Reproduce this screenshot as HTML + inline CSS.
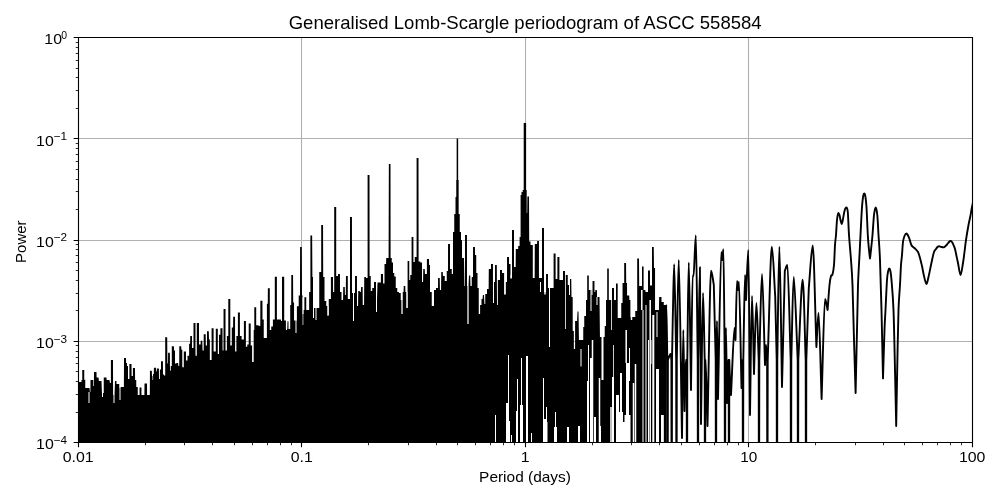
<!DOCTYPE html>
<html><head><meta charset="utf-8"><style>
html,body{margin:0;padding:0;background:#fff;}
svg{display:block;will-change:transform;}
</style></head><body>
<svg width="1000" height="500" viewBox="0 0 1000 500">
<rect width="1000" height="500" fill="#fff"/>
<defs><clipPath id="ax"><rect x="78" y="37" width="895" height="406"/></clipPath></defs>
<path d="M301.5 37V442 M525.5 37V442 M748.5 37V442 M78 138.5H972 M78 240.5H972 M78 341.5H972" stroke="#b0b0b0" stroke-width="1.11" fill="none"/>
<g clip-path="url(#ax)">
<path d="M78 443 L78.00 382 L78.75 382 L78.75 382 L80.10 382 L80.10 382 L81.50 382 L81.50 380 L82.25 380 L82.25 370 L83.25 370 L83.25 370 L84.25 370 L84.25 380 L84.75 380 L84.75 379.5 L85.25 379.5 L85.25 388 L88.05 388 L88.05 388 L89.50 388 L89.95 392 L90.40 392 L90.50 380 L92.00 380 L92.00 380 L93.25 380 L93.25 386 L93.90 386 L94.00 372 L95.25 372 L95.25 372 L96.50 372 L96.60 377.5 L97.05 377.5 L97.50 377.5 L98.50 377.5 L98.95 381 L100.05 381 L100.05 381 L101.50 381 L101.95 393 L102.75 393 L102.75 393 L103.75 393 L103.75 377.5 L105.00 377.5 L105.00 377.5 L106.50 377.5 L106.60 380 L108.05 380 L108.05 380 L109.50 380 L109.95 383 L110.90 383 L110.90 360 L112.00 360 L112.00 360 L113.00 360 L113.10 395 L114.00 395 L114.00 395 L114.55 395 L115.00 381 L116.45 381 L116.45 384 L119.25 384 L119.25 388 L120.55 388 L120.75 387 L122.45 387 L122.45 387 L123.90 387 L124.00 358 L125.00 358 L125.00 358 L126.00 358 L126.10 363 L127.00 363 L127.00 366 L128.00 366 L128.00 379 L129.40 379 L129.40 364 L130.50 364 L130.50 364 L131.50 364 L131.60 376 L132.90 376 L132.90 368 L134.00 368 L134.00 368 L135.00 368 L135.10 380 L136.25 380 L136.25 387 L137.75 387 L137.75 395 L139.55 395 L139.55 387.5 L141.45 387.5 L141.45 395 L143.25 395 L143.25 395 L144.40 395 L144.50 383.5 L145.75 383.5 L145.75 383.5 L147.00 383.5 L147.10 395 L148.50 395 L148.50 395 L149.80 395 L149.95 370.8 L150.90 370.8 L150.90 370.8 L151.80 370.8 L152.00 376 L152.50 376 L152.50 380 L153.10 380 L153.10 374 L153.80 374 L153.90 367.8 L155.00 367.8 L155.00 367.8 L156.00 367.8 L156.20 371.4 L156.80 371.4 L156.90 368.4 L157.90 368.4 L157.90 368.4 L158.90 368.4 L159.00 379 L159.90 379 L159.90 369.6 L161.00 369.6 L161.00 361.2 L162.00 361.2 L162.00 361.2 L162.90 361.2 L163.00 374.4 L164.00 374.4 L164.00 375.6 L165.20 375.6 L165.20 337.2 L166.30 337.2 L166.30 337.2 L167.20 337.2 L167.40 363.6 L168.00 363.6 L168.10 352.8 L169.00 352.8 L169.00 352.8 L169.85 352.8 L170.00 370.8 L170.75 370.8 L170.75 366 L171.80 366 L171.80 346.2 L172.90 346.2 L172.90 346.2 L173.90 346.2 L174.00 350.4 L175.00 350.4 L175.00 363.6 L176.45 363.6 L176.50 363 L178.10 363 L178.35 366 L179.20 366 L179.30 346.2 L180.30 346.2 L180.30 346.2 L181.20 346.2 L181.40 349.8 L182.30 349.8 L182.30 367.2 L183.80 367.2 L183.80 351.6 L184.90 351.6 L184.90 351.6 L186.00 351.6 L186.00 360.6 L187.50 360.6 L187.50 355.8 L189.10 355.8 L189.10 343.8 L190.10 343.8 L190.25 336 L191.05 336 L191.05 336 L192.00 336 L192.00 348 L193.50 348 L193.50 323 L194.50 323 L194.50 323 L195.45 323 L195.50 355.8 L196.80 355.8 L196.80 323 L197.90 323 L197.90 323 L199.00 323 L199.00 344.4 L200.65 344.4 L200.70 340.8 L202.30 340.8 L202.55 350.4 L203.70 350.4 L203.70 334.2 L204.75 334.2 L204.75 334.2 L205.70 334.2 L205.80 345.6 L207.00 345.6 L207.00 331.2 L208.00 331.2 L208.00 331.2 L208.80 331.2 L209.00 339.6 L209.85 339.6 L209.85 360 L211.60 360 L211.60 328.2 L212.60 328.2 L212.60 328.2 L213.60 328.2 L213.60 351.6 L215.80 351.6 L215.80 328.8 L216.80 328.8 L216.80 328.8 L217.80 328.8 L217.80 354 L219.00 354 L219.00 334.8 L220.40 334.8 L220.40 328.2 L221.50 328.2 L221.50 328.2 L222.50 328.2 L222.60 350.4 L223.50 350.4 L223.55 309 L224.50 309 L224.50 309 L225.50 309 L225.50 350.4 L226.90 350.4 L226.90 336 L228.30 336 L228.30 299 L229.30 299 L229.30 299 L230.30 299 L230.30 345.6 L231.80 345.6 L231.80 327.6 L233.10 327.6 L233.15 316.8 L234.10 316.8 L234.10 316.8 L235.05 316.8 L235.10 351.6 L236.40 351.6 L236.40 336 L237.90 336 L237.90 312.6 L238.90 312.6 L238.90 312.6 L239.90 312.6 L239.90 336 L241.60 336 L241.60 339.6 L243.90 339.6 L243.90 321 L244.90 321 L244.90 321 L245.90 321 L245.90 346.8 L247.30 346.8 L247.30 344.4 L248.70 344.4 L248.70 323.4 L249.70 323.4 L249.70 323.4 L250.70 323.4 L250.70 345.6 L252.10 345.6 L252.10 362 L253.10 362 L253.10 362 L253.70 362 L253.70 330 L254.30 330 L254.30 307.2 L255.10 307.2 L255.10 307.2 L256.20 307.2 L256.20 325.2 L257.90 325.2 L257.90 325.4 L259.30 325.4 L259.30 326 L260.30 326 L260.35 300.8 L261.40 300.8 L261.40 300.8 L262.45 300.8 L262.50 319.4 L263.75 319.4 L263.75 338 L265.50 338 L265.50 338 L266.90 338 L266.90 303.8 L267.80 303.8 L267.85 288.2 L268.80 288.2 L268.80 288.2 L269.80 288.2 L269.80 330 L271.25 330 L271.25 326.6 L272.90 326.6 L272.90 319.4 L274.80 319.4 L274.80 276.8 L275.85 276.8 L275.85 276.8 L276.90 276.8 L276.90 319.4 L277.90 319.4 L278.00 319.4 L279.50 319.4 L279.50 319.4 L280.95 319.4 L281.10 321 L282.00 321 L282.00 276.8 L283.10 276.8 L283.10 276.8 L284.20 276.8 L284.20 320.6 L285.90 320.6 L285.90 329 L287.25 329 L287.50 321.2 L288.90 321.2 L289.15 329 L290.20 329 L290.20 305 L291.20 305 L291.30 275 L292.20 275 L292.20 275 L293.05 275 L293.20 302.6 L294.05 302.6 L294.05 320.6 L295.30 320.6 L295.30 320.6 L296.90 320.6 L296.90 306.2 L298.70 306.2 L298.70 295.4 L300.00 295.4 L300.10 247 L301.00 247 L301.00 247 L301.80 247 L302.00 295.4 L302.60 295.4 L302.60 325 L303.30 325 L303.30 310 L304.40 310 L304.40 297.2 L305.50 297.2 L305.50 297.2 L306.25 297.2 L306.25 310 L307.50 310 L307.50 310 L309.15 310 L309.15 292 L310.40 292 L310.40 235.6 L311.40 235.6 L311.40 235.6 L312.15 235.6 L312.40 277 L313.00 277 L313.00 308 L315.75 308 L315.75 308 L319.25 308 L319.25 272 L321.20 272 L321.20 225 L322.20 225 L322.20 225 L323.05 225 L323.20 277 L324.50 277 L324.50 301 L326.25 301 L326.25 306 L327.50 306 L327.50 315 L328.75 315 L328.75 299 L330.90 299 L330.90 277 L332.00 277 L332.00 277 L333.00 277 L333.10 292 L334.20 292 L334.20 207 L335.20 207 L335.20 207 L336.20 207 L336.20 276 L337.15 276 L337.15 276 L338.00 276 L338.05 274 L339.00 274 L339.00 274 L339.95 274 L340.00 292 L341.50 292 L341.50 300 L343.05 300 L343.25 287 L344.75 287 L344.95 295 L345.80 295 L345.95 276 L346.80 276 L346.80 276 L347.80 276 L347.80 299 L350.00 299 L350.00 217 L351.00 217 L351.00 217 L351.95 217 L352.00 293 L353.00 293 L353.00 321 L354.00 321 L354.00 293 L355.00 293 L355.05 276 L356.00 276 L356.00 276 L356.95 276 L357.00 306 L358.05 306 L358.25 291 L359.75 291 L359.95 292 L360.85 292 L361.15 287 L362.65 287 L362.75 305 L364.05 305 L364.25 277 L365.95 277 L365.95 278 L367.60 278 L367.60 175 L368.60 175 L368.60 175 L369.50 175 L369.60 276 L370.75 276 L370.75 291 L372.25 291 L372.25 288 L374.00 288 L374.00 282 L375.00 282 L375.00 282 L376.00 282 L376.00 298 L377.05 298 L377.50 282.5 L378.95 282.5 L378.95 282.5 L380.90 282.5 L380.90 274 L382.00 274 L382.00 274 L383.00 274 L383.10 283.5 L384.50 283.5 L384.50 264 L386.05 264 L386.25 258 L387.75 258 L387.95 258 L388.60 258 L388.85 164 L389.60 164 L389.60 164 L390.50 164 L390.60 258 L391.75 258 L391.75 262.5 L393.00 262.5 L393.00 273 L394.25 273 L394.25 276.5 L395.75 276.5 L395.75 288 L397.25 288 L397.25 292 L399.00 292 L399.00 293 L400.75 293 L400.75 300 L401.75 300 L401.75 314 L402.25 314 L402.25 300 L402.75 300 L402.75 292 L403.55 292 L403.75 286 L405.25 286 L405.45 292 L406.50 292 L406.50 308 L407.60 308 L407.60 261 L408.60 261 L408.60 261 L409.25 261 L409.25 280 L410.25 280 L410.25 275 L411.60 275 L411.60 237 L412.50 237 L412.50 237 L413.40 237 L413.40 262 L414.75 262 L414.75 257 L416.60 257 L416.60 158 L417.60 158 L417.60 158 L418.50 158 L418.60 261.5 L420.25 261.5 L420.25 262.5 L422.00 262.5 L422.00 282 L423.05 282 L423.25 269 L424.75 269 L424.95 274 L426.90 274 L426.90 259 L428.00 259 L428.00 259 L429.00 259 L429.10 265 L430.00 265 L430.00 292 L431.75 292 L431.75 306 L434.00 306 L434.00 290 L436.00 290 L436.00 288 L438.05 288 L438.05 278 L439.75 278 L439.95 290 L441.05 290 L441.25 272 L442.75 272 L442.95 276 L444.75 276 L444.75 281 L446.75 281 L446.75 271 L448.00 271 L448.05 244 L449.00 244 L449.00 244 L450.00 244 L450.00 269 L451.75 269 L451.75 274 L453.00 274 L453.00 232 L454.25 232 L454.25 214 L455.50 214 L455.50 197 L456.25 197 L456.25 180 L456.65 180 L456.65 138.5 L457.40 138.5 L457.40 138.5 L458.15 138.5 L458.15 180 L458.65 180 L458.65 214 L459.75 214 L459.75 232 L461.00 232 L461.00 240 L462.00 240 L462.00 258 L462.55 258 L463.00 258 L464.00 258 L464.45 286 L465.00 286 L465.05 235 L466.00 235 L466.00 235 L466.95 235 L467.00 286 L467.75 286 L467.75 324 L468.25 324 L468.25 286 L468.55 286 L469.00 275.5 L470.25 275.5 L470.45 286 L471.75 286 L471.75 277 L473.00 277 L473.05 247 L474.00 247 L474.00 247 L474.95 247 L475.00 255 L476.25 255 L476.25 273 L477.50 273 L477.50 288 L478.75 288 L478.75 314 L480.10 314 L480.10 305 L481.50 305 L481.50 299 L482.55 299 L482.90 295 L484.00 295 L484.45 304 L485.25 304 L485.25 294 L487.00 294 L487.00 289 L488.65 289 L488.80 269 L490.00 269 L490.00 269 L491.00 269 L491.00 264 L492.00 264 L492.00 264 L492.95 264 L493.00 303 L494.00 303 L494.00 282 L495.00 282 L495.05 265 L496.00 265 L496.00 265 L496.80 265 L497.00 305 L497.85 305 L497.85 280 L500.00 280 L500.00 270 L501.00 270 L501.00 270 L502.00 270 L502.00 273 L504.10 273 L504.10 294.5 L505.85 294.5 L505.85 282 L507.00 282 L507.05 257 L508.00 257 L508.00 257 L509.00 257 L509.00 264 L510.50 264 L510.50 278 L512.00 278 L512.00 230 L513.00 230 L513.00 230 L514.00 230 L514.00 267 L515.65 267 L515.80 249 L517.00 249 L517.00 249 L518.20 249 L518.20 246 L519.60 246 L519.60 237 L520.60 237 L520.60 195 L521.50 195 L521.50 192 L522.70 192 L522.70 190 L523.70 190 L523.70 123 L524.90 123 L524.90 123 L526.10 123 L526.10 190 L526.70 190 L526.70 213 L527.20 213 L527.40 196.6 L528.20 196.6 L528.20 196.6 L529.00 196.6 L529.20 241.6 L530.50 241.6 L530.50 245 L532.80 245 L532.80 278 L534.65 278 L534.80 244 L536.00 244 L536.00 244 L537.05 244 L537.20 241 L538.95 241 L538.95 278 L542.00 278 L542.00 228 L543.00 228 L543.00 228 L544.00 228 L544.00 292 L546.05 292 L546.05 274 L547.95 274 L547.95 288 L550.00 288 L550.00 288 L553.60 288 L553.60 253.6 L554.60 253.6 L554.60 253.6 L555.60 253.6 L555.60 279 L557.40 279 L557.40 257 L558.40 257 L558.40 257 L559.40 257 L559.40 280 L563.00 280 L563.00 271 L564.00 271 L564.00 271 L565.00 271 L565.00 275 L567.75 275 L567.75 285 L569.50 285 L569.50 279 L570.50 279 L570.50 279 L571.25 279 L571.50 297 L572.00 297 L572.00 297 L572.70 297 L572.70 331 L573.85 331 L573.85 349 L575.10 349 L575.10 321 L576.25 321 L576.45 321 L577.05 321 L577.50 311.5 L578.50 311.5 L578.95 340 L581.00 340 L581.00 340 L583.25 340 L583.25 327 L584.25 327 L584.25 316 L586.00 316 L586.00 300 L587.20 300 L587.20 275.5 L587.80 275.5 L587.80 275.5 L588.80 275.5 L588.80 290 L589.80 290 L589.80 290 L590.50 290 L590.50 290 L591.45 290 L591.50 295 L592.50 295 L592.55 281 L593.50 281 L593.50 281 L594.45 281 L594.50 292 L595.30 292 L595.30 290 L596.00 290 L596.00 290 L596.95 290 L597.00 297 L598.05 297 L598.25 297 L599.50 297 L599.95 337 L602.25 337 L602.25 337 L604.75 337 L604.75 326 L606.00 326 L606.00 300 L607.20 300 L607.20 268.5 L607.80 268.5 L607.80 268.5 L608.80 268.5 L608.80 300 L610.25 300 L610.25 300 L612.00 300 L612.00 288 L613.00 288 L613.00 288 L614.00 288 L614.00 300 L616.00 300 L616.00 283.5 L617.00 283.5 L617.00 283.5 L617.70 283.5 L617.70 318 L619.50 318 L619.50 318 L621.25 318 L621.25 303 L622.55 303 L622.55 283 L624.20 283 L624.20 263 L625.20 263 L625.20 263 L626.05 263 L626.20 283 L627.05 283 L627.05 295.5 L628.00 295.5 L628.00 295.5 L629.20 295.5 L629.35 300 L630.50 300 L630.50 317 L633.00 317 L633.00 317 L635.25 317 L635.25 311 L637.20 311 L637.20 258.5 L638.20 258.5 L638.20 258.5 L639.00 258.5 L639.20 286 L639.80 286 L639.80 286 L642.00 286 L642.00 266.5 L643.00 266.5 L643.00 266.5 L643.60 266.5 L643.60 290 L644.20 290 L644.20 290 L645.30 290 L645.55 292 L648.00 292 L648.00 270.5 L649.00 270.5 L649.00 270.5 L649.95 270.5 L650.00 285.5 L652.00 285.5 L652.00 247 L653.00 247 L653.00 247 L653.75 247 L654.00 268 L654.50 268 L654.50 268 L655.05 268 L655.05 310 L657.00 310 L657.00 310 L658.90 310 L659.15 297 L660.20 297 L660.20 297 L661.50 297 L661.50 302 L663.75 302 L663.75 305 L665.55 305 L665.75 305 L666.50 305 L666.5 443 Z" fill="#000"/>
<g fill="#fff"><rect x="88.50" y="392" width="1" height="11"/><rect x="113.50" y="395" width="1" height="8"/><rect x="102.00" y="393" width="1" height="4"/><rect x="119.50" y="388" width="1" height="12"/><rect x="286.00" y="321" width="1" height="9"/><rect x="288.50" y="321" width="1" height="8"/><rect x="295.50" y="320" width="1" height="13"/><rect x="302.50" y="297" width="1" height="17"/><rect x="313.00" y="308" width="1" height="10"/><rect x="315.50" y="308" width="1" height="12"/><rect x="327.50" y="306" width="1" height="10"/><rect x="353.00" y="293" width="1" height="28"/><rect x="376.00" y="298" width="1" height="14"/><rect x="401.50" y="300" width="1" height="14"/><rect x="406.50" y="292" width="1" height="16"/><rect x="432.50" y="292" width="1" height="14"/><rect x="467.50" y="286" width="1" height="38"/><rect x="495.00" y="415" width="1" height="27"/><rect x="506.00" y="403" width="2" height="39"/><rect x="508.00" y="355" width="1" height="87"/><rect x="509.00" y="421" width="1" height="21"/><rect x="511.00" y="435" width="1" height="7"/><rect x="516.00" y="411" width="1" height="31"/><rect x="517.00" y="379" width="1" height="63"/><rect x="520.00" y="405" width="1" height="37"/><rect x="521.00" y="358" width="1" height="84"/><rect x="522.00" y="405" width="1" height="37"/><rect x="526.00" y="356" width="2" height="86"/><rect x="531.00" y="433" width="1" height="9"/><rect x="543.50" y="419" width="3" height="23"/><rect x="546.00" y="407" width="1" height="35"/><rect x="555.00" y="412" width="1" height="30"/><rect x="554.00" y="427" width="2" height="15"/><rect x="568.00" y="427" width="1" height="15"/><rect x="510.60" y="275" width="0.8" height="4"/><rect x="540.00" y="282" width="1" height="10"/><rect x="544.25" y="282" width="1.5" height="12.5"/><rect x="549.00" y="285" width="1" height="62"/><rect x="565.10" y="275" width="0.8" height="54"/><rect x="569.00" y="279" width="1" height="16"/><rect x="590.50" y="290" width="1" height="21"/><rect x="596.50" y="297" width="1" height="8"/><rect x="611.10" y="300" width="0.8" height="30"/><rect x="543.00" y="378" width="1" height="64"/><rect x="580.50" y="349" width="1" height="17.5"/><rect x="587.00" y="381" width="2" height="61"/><rect x="588.00" y="345" width="1" height="97"/><rect x="590.00" y="358" width="3" height="84"/><rect x="591.75" y="340" width="1.5" height="102"/><rect x="598.75" y="378" width="1.5" height="64"/><rect x="601.50" y="337" width="2" height="43"/><rect x="612.00" y="377" width="2" height="65"/><rect x="613.10" y="345" width="0.8" height="97"/><rect x="620.00" y="373" width="2" height="69"/><rect x="625.45" y="330" width="1.5" height="33"/><rect x="626.00" y="363" width="3" height="79"/><rect x="629.00" y="348" width="1" height="33"/><rect x="632.75" y="383" width="1.5" height="59"/><rect x="634.75" y="364" width="1.5" height="78"/><rect x="543.50" y="422" width="4" height="20"/><rect x="554.00" y="427" width="3" height="15"/><rect x="567.00" y="427" width="2" height="15"/><rect x="578.00" y="426" width="2" height="16"/><rect x="594.00" y="417" width="2" height="25"/><rect x="599.00" y="426" width="2" height="16"/><rect x="610.25" y="407" width="1.5" height="35"/><rect x="616.00" y="395" width="3" height="47"/><rect x="619.00" y="412" width="4" height="30"/><rect x="624.50" y="415" width="6" height="27"/><rect x="623.00" y="422" width="2" height="20"/><rect x="630.75" y="298" width="1.5" height="22"/><rect x="641.05" y="290" width="1.5" height="20"/><rect x="642.50" y="310" width="1" height="132"/><rect x="645.50" y="305" width="1" height="137"/><rect x="648.00" y="340" width="1" height="102"/><rect x="649.45" y="300" width="1.5" height="142"/><rect x="650.50" y="340" width="1" height="24"/><rect x="652.30" y="315" width="2" height="127"/><rect x="656.50" y="312" width="1" height="25"/><rect x="656.00" y="369" width="3" height="73"/><rect x="661.00" y="415" width="3" height="27"/><rect x="664.45" y="365" width="1.5" height="77"/></g>
<path d="M664.70 360.00 C664.80 440.00 664.90 520.00 665.00 600.00 C665.10 520.00 665.20 440.00 665.30 360.00 C665.63 341.67 665.97 305.00 666.30 305.00 C666.63 305.00 666.97 341.67 667.30 360.00 C667.40 440.00 667.50 520.00 667.60 600.00 C667.70 520.00 667.80 440.00 667.90 360.00 C668.77 358.00 669.92 354.00 670.50 354.00 C671.08 354.00 671.10 358.00 671.40 360.00 C671.50 440.00 671.60 520.00 671.70 600.00 C671.80 520.00 671.90 440.00 672.00 360.00 C672.27 345.67 672.53 331.33 672.80 317.00 C673.27 299.40 673.63 264.20 674.20 264.20 C674.77 264.20 675.53 328.07 676.20 360.00 C676.30 440.00 676.40 520.00 676.50 600.00 C676.60 520.00 676.70 440.00 676.80 360.00 C677.47 326.67 677.93 260.00 678.80 260.00 C679.67 260.00 680.93 378.67 682.00 438.00 C682.43 402.00 682.88 330.00 683.30 330.00 C683.72 330.00 684.10 384.00 684.50 411.00 C684.93 394.00 685.43 360.00 685.80 360.00 C686.17 360.00 686.40 360.00 686.70 360.00 C686.80 440.00 686.90 520.00 687.00 600.00 C687.10 520.00 687.20 440.00 687.30 360.00 C687.80 327.47 688.18 262.40 688.80 262.40 C689.42 262.40 690.27 347.47 691.00 390.00 C691.53 351.87 692.17 275.60 692.60 275.60 C693.03 275.60 693.07 276.00 693.60 276.00 C694.13 276.00 695.12 235.40 695.80 235.40 C696.48 235.40 697.07 318.47 697.70 360.00 C697.80 440.00 697.90 520.00 698.00 600.00 C698.10 520.00 698.20 440.00 698.30 360.00 C698.83 329.07 699.45 267.20 699.90 267.20 C700.35 267.20 700.63 371.73 701.00 424.00 C701.67 380.33 702.38 293.00 703.00 293.00 C703.62 293.00 704.13 337.67 704.70 360.00 C704.80 440.00 704.90 520.00 705.00 600.00 C705.10 520.00 705.20 440.00 705.30 360.00 C705.63 366.67 705.93 369.00 706.30 380.00 C706.67 391.00 707.10 410.67 707.50 426.00 C708.67 374.27 709.95 270.80 711.00 270.80 C712.05 270.80 712.87 280.00 713.80 284.60 C714.43 309.73 715.07 334.87 715.70 360.00 C715.80 440.00 715.90 520.00 716.00 600.00 C716.10 520.00 716.20 440.00 716.30 360.00 C716.53 347.00 716.72 321.00 717.00 321.00 C717.28 321.00 717.67 373.00 718.00 399.00 C719.07 350.07 720.48 252.20 721.20 252.20 C721.92 252.20 721.93 257.40 722.30 260.00 C722.67 256.40 723.00 249.20 723.40 249.20 C723.80 249.20 724.27 323.07 724.70 360.00 C724.80 440.00 724.90 520.00 725.00 600.00 C725.10 520.00 725.20 440.00 725.30 360.00 C725.53 349.33 725.72 328.00 726.00 328.00 C726.28 328.00 726.67 378.00 727.00 403.00 C727.33 388.67 727.72 360.00 728.00 360.00 C728.28 360.00 728.47 360.00 728.70 360.00 C728.80 440.00 728.90 520.00 729.00 600.00 C729.10 520.00 729.20 440.00 729.30 360.00 C729.53 366.67 729.72 374.17 730.00 380.00 C730.28 385.83 730.67 390.00 731.00 395.00 C732.13 372.67 733.65 328.00 734.40 328.00 C735.15 328.00 735.13 336.00 735.50 340.00 C736.00 320.33 736.58 281.00 737.00 281.00 C737.42 281.00 737.67 287.00 738.00 290.00 C738.33 287.33 738.42 282.00 739.00 282.00 C739.58 282.00 740.67 352.67 741.50 388.00 C741.90 378.67 742.30 369.33 742.70 360.00 C742.80 440.00 742.90 520.00 743.00 600.00 C743.10 520.00 743.20 440.00 743.30 360.00 C743.87 331.67 744.55 275.00 745.00 275.00 C745.45 275.00 745.67 291.67 746.00 300.00 C746.77 283.33 747.63 250.00 748.30 250.00 C748.97 250.00 749.43 360.00 750.00 415.00 C750.67 375.33 751.33 296.00 752.00 296.00 C752.67 296.00 753.33 348.00 754.00 374.00 C754.80 350.33 755.62 303.00 756.40 303.00 C757.18 303.00 757.93 341.00 758.70 360.00 C758.80 440.00 758.90 520.00 759.00 600.00 C759.10 520.00 759.20 440.00 759.30 360.00 C760.20 331.33 761.05 274.00 762.00 274.00 C762.95 274.00 764.00 334.67 765.00 365.00 C765.33 358.33 765.65 345.00 766.00 345.00 C766.35 345.00 766.73 355.00 767.10 360.00 C767.20 440.00 767.30 520.00 767.40 600.00 C767.50 520.00 767.60 440.00 767.70 360.00 C769.07 322.20 770.55 246.60 771.80 246.60 C773.05 246.60 774.07 279.53 775.20 296.00 C775.70 317.33 776.20 338.67 776.70 360.00 C776.80 440.00 776.90 520.00 777.00 600.00 C777.10 520.00 777.20 440.00 777.30 360.00 C778.00 322.20 778.62 246.60 779.40 246.60 C780.18 246.60 781.13 340.20 782.00 387.00 C782.93 348.33 783.87 309.67 784.80 271.00 C785.67 269.00 786.42 265.00 787.40 265.00 C788.38 265.00 789.60 328.33 790.70 360.00 C790.80 440.00 790.90 520.00 791.00 600.00 C791.10 520.00 791.20 440.00 791.30 360.00 C792.13 332.33 792.73 277.00 793.80 277.00 C794.87 277.00 796.40 332.33 797.70 360.00 C797.80 440.00 797.90 520.00 798.00 600.00 C798.10 520.00 798.20 440.00 798.30 360.00 C799.73 333.20 801.37 279.60 802.60 279.60 C803.83 279.60 804.67 333.20 805.70 360.00 C805.80 440.00 805.90 520.00 806.00 600.00 C806.10 520.00 806.20 440.00 806.30 360.00 C807.13 336.00 807.97 312.00 808.80 288.00 C810.10 273.80 811.43 245.40 812.70 245.40 C813.97 245.40 815.17 313.13 816.40 347.00 C817.13 335.67 817.73 313.00 818.60 313.00 C819.47 313.00 820.60 370.33 821.60 399.00 C822.73 365.67 824.00 299.00 825.00 299.00 C826.00 299.00 826.73 306.33 827.60 310.00 C828.23 301.67 828.93 290.67 829.50 285.00 C830.07 279.33 830.50 277.75 831.00 276.00 C831.50 274.25 832.00 276.33 832.50 274.50 C833.00 272.67 833.58 269.92 834.00 265.00 C834.42 260.08 834.67 250.00 835.00 245.00 C835.33 240.00 835.67 239.17 836.00 235.00 C836.33 230.83 836.62 223.67 837.00 220.00 C837.38 216.33 837.88 213.00 838.30 213.00 C838.72 213.00 839.13 213.83 839.50 215.00 C839.87 216.17 840.13 218.50 840.50 220.00 C840.87 221.50 841.28 224.00 841.70 224.00 C842.12 224.00 842.53 221.17 843.00 219.00 C843.47 216.83 843.95 212.92 844.50 211.00 C845.05 209.08 845.75 207.50 846.30 207.50 C846.85 207.50 847.35 207.42 847.80 212.00 C848.25 216.58 848.47 227.00 849.00 235.00 C849.53 243.00 850.42 251.67 851.00 260.00 C851.58 268.33 852.00 271.67 852.50 285.00 C853.00 298.33 853.48 322.00 854.00 340.00 C854.52 358.00 855.07 375.33 855.60 393.00 C856.07 372.00 856.60 348.00 857.00 330.00 C857.40 312.00 857.58 297.50 858.00 285.00 C858.42 272.50 859.08 263.33 859.50 255.00 C859.92 246.67 860.08 243.00 860.50 235.00 C860.92 227.00 861.55 213.50 862.00 207.00 C862.45 200.50 862.83 198.25 863.20 196.00 C863.57 193.75 863.85 193.50 864.20 193.50 C864.55 193.50 864.92 193.75 865.30 196.00 C865.68 198.25 866.08 200.50 866.50 207.00 C866.92 213.50 867.38 227.83 867.80 235.00 C868.22 242.17 868.63 246.08 869.00 250.00 C869.37 253.92 869.67 255.67 870.00 258.50 C870.33 255.67 870.58 253.92 871.00 250.00 C871.42 246.08 872.00 240.83 872.50 235.00 C873.00 229.17 873.47 219.58 874.00 215.00 C874.53 210.42 875.15 207.50 875.70 207.50 C876.25 207.50 876.83 210.42 877.30 215.00 C877.77 219.58 878.05 227.50 878.50 235.00 C878.95 242.50 879.50 247.50 880.00 260.00 C880.50 272.50 881.00 290.27 881.50 310.00 C882.00 329.73 882.50 355.60 883.00 378.40 C883.50 362.27 884.08 341.40 884.50 330.00 C884.92 318.60 885.08 318.33 885.50 310.00 C885.92 301.67 886.55 286.50 887.00 280.00 C887.45 273.50 887.82 272.92 888.20 271.00 C888.58 269.08 888.93 268.50 889.30 268.50 C889.67 268.50 890.03 269.08 890.40 271.00 C890.77 272.92 890.98 273.50 891.50 280.00 C892.02 286.50 892.92 295.00 893.50 310.00 C894.08 325.00 894.55 350.67 895.00 370.00 C895.45 389.33 895.80 407.33 896.20 426.00 C896.53 407.33 896.82 389.33 897.20 370.00 C897.58 350.67 898.03 324.17 898.50 310.00 C898.97 295.83 899.58 292.50 900.00 285.00 C900.42 277.50 900.67 270.00 901.00 265.00 C901.33 260.00 901.67 258.83 902.00 255.00 C902.33 251.17 902.58 245.17 903.00 242.00 C903.42 238.83 903.92 237.42 904.50 236.00 C905.08 234.58 905.92 233.50 906.50 233.50 C907.08 233.50 907.50 234.58 908.00 235.50 C908.50 236.42 909.00 237.58 909.50 239.00 C910.00 240.42 910.58 242.83 911.00 244.00 C911.42 245.17 911.33 245.25 912.00 246.00 C912.67 246.75 914.00 247.50 915.00 248.50 C916.00 249.50 917.17 250.42 918.00 252.00 C918.83 253.58 919.50 256.33 920.00 258.00 C920.50 259.67 920.67 260.67 921.00 262.00 C921.33 263.33 921.50 263.67 922.00 266.00 C922.50 268.33 923.27 273.00 924.00 276.00 C924.73 279.00 925.65 284.00 926.40 284.00 C927.15 284.00 927.73 280.17 928.50 277.00 C929.27 273.83 930.33 268.17 931.00 265.00 C931.67 261.83 932.00 260.17 932.50 258.00 C933.00 255.83 933.42 253.50 934.00 252.00 C934.58 250.50 935.42 249.83 936.00 249.00 C936.58 248.17 936.97 247.45 937.50 247.00 C938.03 246.55 938.62 246.30 939.20 246.30 C939.78 246.30 940.32 246.62 941.00 246.80 C941.68 246.98 942.63 247.40 943.30 247.40 C943.97 247.40 944.38 246.98 945.00 246.50 C945.62 246.02 946.33 245.25 947.00 244.50 C947.67 243.75 948.43 242.58 949.00 242.00 C949.57 241.42 949.90 241.00 950.40 241.00 C950.90 241.00 951.48 241.33 952.00 242.00 C952.52 242.67 953.00 243.83 953.50 245.00 C954.00 246.17 954.50 247.17 955.00 249.00 C955.50 250.83 956.00 253.67 956.50 256.00 C957.00 258.33 957.33 259.83 958.00 263.00 C958.67 266.17 959.67 275.00 960.50 275.00 C961.33 275.00 962.33 266.83 963.00 263.00 C963.67 259.17 964.00 255.83 964.50 252.00 C965.00 248.17 965.33 244.50 966.00 240.00 C966.67 235.50 967.75 229.08 968.50 225.00 C969.25 220.92 969.92 218.50 970.50 215.50 C971.08 212.50 971.42 209.92 972.00 207.00 C972.58 204.08 973.67 199.50 974.00 198.00" fill="none" stroke="#000" stroke-width="1.9" stroke-linejoin="round"/>
</g>
<path d="M78.5 37.5H972.5V442.5H78.5Z" stroke="#000" stroke-width="1.11" fill="none" stroke-linecap="square"/>
<path d="M78.5 442.5v4.86 M301.5 442.5v4.86 M525.5 442.5v4.86 M748.5 442.5v4.86 M972.5 442.5v4.86 M78.5 442.5h-4.86 M78.5 341.5h-4.86 M78.5 240.5h-4.86 M78.5 138.5h-4.86 M78.5 37.5h-4.86" stroke="#000" stroke-width="1.11" fill="none"/>
<path d="M145.5 442.5v2.78 M184.5 442.5v2.78 M212.5 442.5v2.78 M234.5 442.5v2.78 M252.5 442.5v2.78 M267.5 442.5v2.78 M280.5 442.5v2.78 M291.5 442.5v2.78 M368.5 442.5v2.78 M408.5 442.5v2.78 M436.5 442.5v2.78 M457.5 442.5v2.78 M475.5 442.5v2.78 M490.5 442.5v2.78 M503.5 442.5v2.78 M514.5 442.5v2.78 M592.5 442.5v2.78 M631.5 442.5v2.78 M659.5 442.5v2.78 M681.5 442.5v2.78 M699.5 442.5v2.78 M714.5 442.5v2.78 M727.5 442.5v2.78 M738.5 442.5v2.78 M815.5 442.5v2.78 M855.5 442.5v2.78 M883.5 442.5v2.78 M904.5 442.5v2.78 M922.5 442.5v2.78 M937.5 442.5v2.78 M950.5 442.5v2.78 M961.5 442.5v2.78 M78.5 412.5h-2.78 M78.5 394.5h-2.78 M78.5 381.5h-2.78 M78.5 371.5h-2.78 M78.5 363.5h-2.78 M78.5 357.5h-2.78 M78.5 351.5h-2.78 M78.5 345.5h-2.78 M78.5 310.5h-2.78 M78.5 293.5h-2.78 M78.5 280.5h-2.78 M78.5 270.5h-2.78 M78.5 262.5h-2.78 M78.5 255.5h-2.78 M78.5 249.5h-2.78 M78.5 244.5h-2.78 M78.5 209.5h-2.78 M78.5 191.5h-2.78 M78.5 179.5h-2.78 M78.5 169.5h-2.78 M78.5 161.5h-2.78 M78.5 154.5h-2.78 M78.5 148.5h-2.78 M78.5 143.5h-2.78 M78.5 108.5h-2.78 M78.5 90.5h-2.78 M78.5 77.5h-2.78 M78.5 68.5h-2.78 M78.5 60.5h-2.78 M78.5 53.5h-2.78 M78.5 47.5h-2.78 M78.5 42.5h-2.78" stroke="#000" stroke-width="0.83" fill="none"/>
<g class="t" font-family="Liberation Sans, sans-serif" fill="#000"><text x="525.2" y="28.8" font-size="18.2" text-anchor="middle" textLength="473" lengthAdjust="spacingAndGlyphs">Generalised Lomb-Scargle periodogram of ASCC 558584</text>
<text x="525" y="481.7" font-size="14.4" text-anchor="middle" textLength="91.8" lengthAdjust="spacingAndGlyphs">Period (days)</text>
<text transform="translate(25.9 241.7) rotate(-90)" font-size="14.4" text-anchor="middle" textLength="42.5" lengthAdjust="spacingAndGlyphs">Power</text>
<text x="78.20" y="461.7" font-size="14.4" text-anchor="middle" textLength="30.92" lengthAdjust="spacingAndGlyphs">0.01</text>
<text x="301.70" y="461.7" font-size="14.4" text-anchor="middle" textLength="22.09" lengthAdjust="spacingAndGlyphs">0.1</text>
<text x="525.20" y="461.7" font-size="14.4" text-anchor="middle" textLength="8.84" lengthAdjust="spacingAndGlyphs">1</text>
<text x="748.70" y="461.7" font-size="14.4" text-anchor="middle" textLength="17.1" lengthAdjust="spacingAndGlyphs">10</text>
<text x="972.20" y="461.7" font-size="14.4" text-anchor="middle" textLength="26.51" lengthAdjust="spacingAndGlyphs">100</text>
<text x="36.1" y="449.40" font-size="14.4" textLength="17.67" lengthAdjust="spacingAndGlyphs">10</text>
<text x="53.6" y="443.80" font-size="10.8" textLength="13.4" lengthAdjust="spacingAndGlyphs">−4</text>
<text x="36.1" y="348.15" font-size="14.4" textLength="17.67" lengthAdjust="spacingAndGlyphs">10</text>
<text x="53.6" y="342.55" font-size="10.8" textLength="13.4" lengthAdjust="spacingAndGlyphs">−3</text>
<text x="36.1" y="246.90" font-size="14.4" textLength="17.67" lengthAdjust="spacingAndGlyphs">10</text>
<text x="53.6" y="241.30" font-size="10.8" textLength="13.4" lengthAdjust="spacingAndGlyphs">−2</text>
<text x="36.1" y="145.65" font-size="14.4" textLength="17.67" lengthAdjust="spacingAndGlyphs">10</text>
<text x="53.6" y="140.05" font-size="10.8" textLength="13.4" lengthAdjust="spacingAndGlyphs">−1</text>
<text x="44.3" y="44.40" font-size="14.4" textLength="17.67" lengthAdjust="spacingAndGlyphs">10</text>
<text x="61.3" y="38.80" font-size="10.8" textLength="5.8" lengthAdjust="spacingAndGlyphs">0</text></g>
</svg>
</body></html>
